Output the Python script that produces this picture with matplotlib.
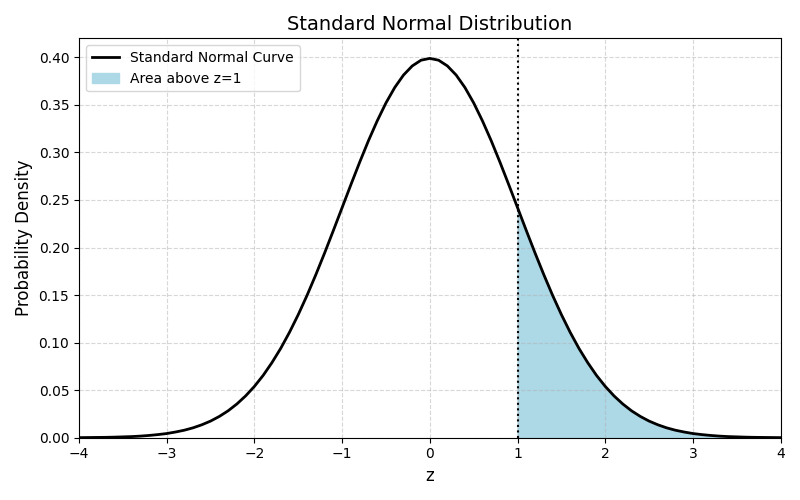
import matplotlib
matplotlib.use("Agg")
import matplotlib.pyplot as plt

z_values = [round(-4 + 0.1 * i, 1) for i in range(81)]
right_half = [0.3989, 0.3970, 0.3910, 0.3814, 0.3683, 0.3521, 0.3332, 0.3123, 0.2897, 0.2661,
              0.2420, 0.2179, 0.1942, 0.1714, 0.1497, 0.1295, 0.1109, 0.0940, 0.0790, 0.0656,
              0.0540, 0.0440, 0.0355, 0.0283, 0.0224, 0.0175, 0.0136, 0.0104, 0.0079, 0.0060,
              0.0044, 0.0033, 0.0024, 0.0017, 0.0012, 0.0009, 0.0006, 0.0004, 0.0003, 0.0002,
              0.0001]
density = right_half[:0:-1] + right_half
z_cut = 1.0

fig, ax = plt.subplots(figsize=(8, 5), dpi=100)
ax.plot(z_values, density, color="black", lw=2, label="Standard Normal Curve")
shade_x = [z for z in z_values if z >= z_cut]
shade_y = [d for z, d in zip(z_values, density) if z >= z_cut]
ax.fill_between(shade_x, shade_y, color="lightblue", label="Area above z=1")
ax.axvline(z_cut, color="black", ls=":", lw=1.5)
ax.set_xlim(-4, 4)
ax.set_ylim(0, 0.42)
ax.set_yticks([i * 0.05 for i in range(9)])
ax.grid(True, ls="--", alpha=0.5)
ax.set_title("Standard Normal Distribution", fontsize=14)
ax.set_xlabel("z", fontsize=12)
ax.set_ylabel("Probability Density", fontsize=12)
ax.legend(loc="upper left")
fig.tight_layout()
fig.savefig("out.png")
